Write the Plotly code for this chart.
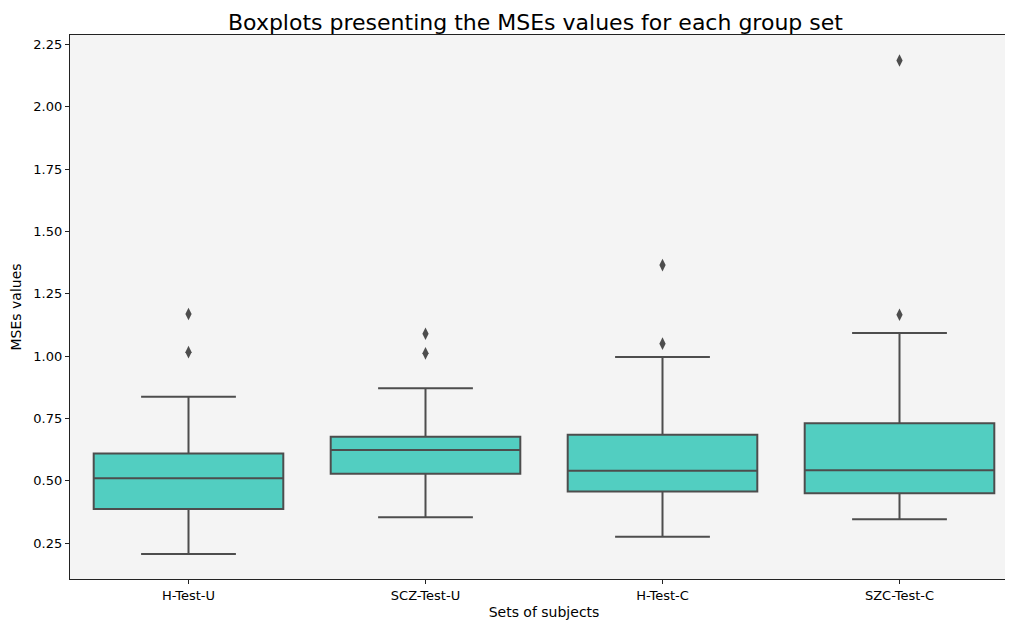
import plotly.graph_objects as go

# groups and summary statistics
groups = ["H-Test-U", "SCZ-Test-U", "H-Test-C", "SZC-Test-C"]
lower_whisker = [0.206, 0.354, 0.275, 0.346]
q1 = [0.387, 0.528, 0.457, 0.450]
median = [0.510, 0.623, 0.540, 0.542]
q3 = [0.609, 0.677, 0.685, 0.731]
upper_whisker = [0.837, 0.871, 0.996, 1.093]

outlier_group = ["H-Test-U", "H-Test-U", "SCZ-Test-U", "SCZ-Test-U", "H-Test-C", "H-Test-C", "SZC-Test-C", "SZC-Test-C"]
outlier_value = [1.169, 1.016, 1.090, 1.011, 1.365, 1.050, 2.186, 1.166]

yticks = [0.25, 0.50, 0.75, 1.00, 1.25, 1.50, 1.75, 2.00, 2.25]

FILL = "#52cec1"
GRAY = "#4d4d4d"

fig = go.Figure()
fig.add_trace(go.Box(
    x=groups, q1=q1, median=median, q3=q3,
    lowerfence=lower_whisker, upperfence=upper_whisker,
    fillcolor=FILL, line=dict(color=GRAY, width=2),
    width=0.8, whiskerwidth=0.5, boxpoints=False,
    hoverinfo="y", showlegend=False,
))
fig.add_trace(go.Scatter(
    x=outlier_group, y=outlier_value, mode="markers",
    marker=dict(symbol="diamond-tall", size=9, color=GRAY, line=dict(width=0)),
    showlegend=False,
))

fig.update_layout(
    width=1013, height=628,
    margin=dict(l=62, r=3, t=27, b=57),
    paper_bgcolor="white", plot_bgcolor="#f4f4f4",
    font=dict(family="DejaVu Sans", size=12, color="black"),
    title=dict(text="Boxplots presenting the MSEs values for each group set",
               xref="paper", x=0.491, xanchor="center",
               yref="container", y=0.977, yanchor="middle",
               font=dict(size=22)),
)
fig.update_xaxes(
    title=dict(text="Sets of subjects", standoff=5),
    categoryorder="array", categoryarray=groups,
    range=[-0.5, 3.5], tickfont=dict(size=13),
    showline=True, linecolor="#222222", linewidth=1.2, mirror=True,
    ticks="outside", ticklen=4, tickcolor="#222222",
    showgrid=False, zeroline=False,
)
fig.update_yaxes(
    title=dict(text="MSEs values", standoff=9),
    range=[0.106, 2.288], tickfont=dict(size=13),
    tickvals=yticks, ticktext=[f"{v:.2f}" for v in yticks],
    showline=True, linecolor="#222222", linewidth=1.2, mirror=True,
    ticks="outside", ticklen=4, tickcolor="#222222",
    showgrid=False, zeroline=False,
)

fig.write_html("out.html")
